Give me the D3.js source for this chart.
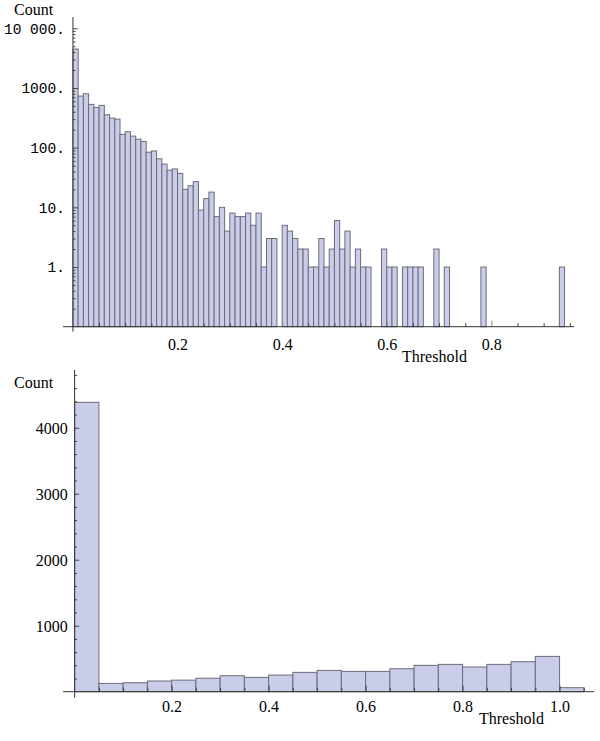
<!DOCTYPE html>
<html>
<head>
<meta charset="utf-8">
<script src="https://cdn.jsdelivr.net/npm/d3@7"></script>
<style>
  html, body { margin: 0; padding: 0; background: #fff; }
  svg { display: block; }
  .serif { font-family: "Liberation Serif", "Times New Roman", serif; }
  .mono { font-family: "Liberation Mono", "Courier New", monospace; }
</style>
</head>
<body>
<script>
// ---------------- DATA ----------------
// Top histogram: bin width 0.01 starting at 0 (log-scaled counts)
const topBinWidth = 0.01;
const topCounts = [
  4490, 731, 800, 531, 473, 511, 356, 313, 301, 167,
  185, 156, 139, 127, 84, 88, 65, 53, 42, 44,
  37, 20, 23, 27, 9, 14, 18, 7, 10, 4,
  8, 7, 7, 8, 5, 8, 1, 3, 3, 0,
  5, 4, 3, 2, 2, 1, 1, 3, 1, 2,
  6, 2, 4, 1, 2, 1, 1, 0, 0, 2,
  1, 1, 0, 1, 1, 1, 1, 0, 0, 2,
  0, 1, 0, 0, 0, 0, 0, 0, 1, 0,
  0, 0, 0, 0, 0, 0, 0, 0, 0, 0,
  0, 0, 0, 1
];
const topXTicks = [0.2, 0.4, 0.6, 0.8];
const topXLabels = ["0.2", "0.4", "0.6", "0.8"];
const topYTicks = [1, 10, 100, 1000, 10000];
const topYLabels = ["1.", "10.", "100.", "1000.", "10 000."];

// Bottom histogram: bin width 0.05 starting at 0 (linear counts)
const bottomBinWidth = 0.05;
const bottomCounts = [
  4385, 126, 136, 162, 175, 204, 242, 217, 252, 293,
  323, 308, 308, 348, 399, 414, 374, 414, 455, 535, 61
];
const bottomXTicks = [0.2, 0.4, 0.6, 0.8, 1.0];
const bottomXLabels = ["0.2", "0.4", "0.6", "0.8", "1.0"];
const bottomYTicks = [1000, 2000, 3000, 4000];
const bottomYLabels = ["1000", "2000", "3000", "4000"];

const axisLabelY = "Count";
const axisLabelX = "Threshold";

// ---------------- STYLE ----------------
const W = 600, H = 741;
const barFill = "#c9cde9";
const barStroke = "#6c6c78";
const axisColor = "#333";
const tickColor = "#444";
const serifSize = 16;

const svg = d3.select("body").append("svg")
  .attr("width", W).attr("height", H);

function range(a, b, step) {
  const out = [];
  for (let v = a; v <= b + 1e-9; v += step) out.push(+v.toFixed(6));
  return out;
}

// ================= TOP CHART =================
{
  const x = d3.scaleLinear().domain([-0.019, 0.958]).range([63, 574]);
  const y = d3.scaleLog().domain([0.1, 10000]).range([326.7, 28.3]);
  const yTop = y.invert(17);
  const g = svg.append("g");

  const bins = topCounts.map((c, i) => ({ x0: i * topBinWidth, x1: (i + 1) * topBinWidth, c }))
    .filter(d => d.c > 0);

  g.selectAll("rect.bar").data(bins).join("rect")
    .attr("class", "bar")
    .attr("x", d => x(d.x0))
    .attr("width", d => x(d.x1) - x(d.x0))
    .attr("y", d => y(d.c))
    .attr("height", d => y(0.1) - y(d.c))
    .attr("fill", barFill)
    .attr("stroke", barStroke)
    .attr("stroke-width", 1);

  const minorY = [];
  [0.1, 1, 10, 100, 1000, 10000].forEach(dec => {
    for (let m = 2; m <= 9; m++) { const v = dec * m; if (v < yTop) minorY.push(v); }
  });
  g.append("g").attr("transform", `translate(${x(0)},0)`)
    .call(d3.axisLeft(y).tickValues(minorY).tickSizeInner(-2.5).tickSizeOuter(0).tickFormat(""))
    .call(s => s.select(".domain").remove())
    .call(s => s.selectAll("line").attr("stroke", tickColor));
  g.append("g").attr("transform", `translate(${x(0)},0)`)
    .call(d3.axisLeft(y).tickValues(topYTicks).tickSizeInner(-5).tickSizeOuter(0)
      .tickPadding(8).tickFormat((d, i) => topYLabels[i]))
    .call(s => s.select(".domain").remove())
    .call(s => s.selectAll("line").attr("stroke", tickColor))
    .call(s => s.selectAll("text").attr("class", "mono").attr("font-size", 14.5)
      .attr("fill", "#000").attr("font-family", null).attr("dy", "0.34em"));

  const minorX = range(0.05, 0.95, 0.05).filter(v => !topXTicks.some(t => Math.abs(t - v) < 1e-6));
  g.append("g").attr("transform", `translate(0,${y(0.1)})`)
    .call(d3.axisBottom(x).tickValues(minorX).tickSizeInner(-3.5).tickSizeOuter(0).tickFormat(""))
    .call(s => s.select(".domain").remove())
    .call(s => s.selectAll("line").attr("stroke", tickColor));
  g.append("g").attr("transform", `translate(0,${y(0.1)})`)
    .call(d3.axisBottom(x).tickValues(topXTicks).tickSizeInner(-6).tickSizeOuter(0)
      .tickPadding(12).tickFormat((d, i) => topXLabels[i]))
    .call(s => s.select(".domain").remove())
    .call(s => s.selectAll("line").attr("stroke", "#888"))
    .call(s => s.selectAll("text").attr("class", "serif").attr("font-size", serifSize)
      .attr("fill", "#000").attr("font-family", null));

  g.append("line").attr("x1", x(-0.019)).attr("x2", x(0.958))
    .attr("y1", y(0.1)).attr("y2", y(0.1)).attr("stroke", axisColor).attr("stroke-width", 1);
  g.append("line").attr("x1", x(0)).attr("x2", x(0))
    .attr("y1", y(yTop)).attr("y2", y(0.1) + 5).attr("stroke", axisColor).attr("stroke-width", 1);

  g.append("text").attr("class", "serif").attr("font-size", serifSize)
    .attr("x", 14).attr("y", 15).text(axisLabelY);
  g.append("text").attr("class", "serif").attr("font-size", serifSize)
    .attr("x", 402).attr("y", 362).text(axisLabelX);
}

// ================= BOTTOM CHART =================
{
  const x = d3.scaleLinear().domain([-0.024, 1.071]).range([63, 594]);
  const y = d3.scaleLinear().domain([0, 4875]).range([691.7, 370]);
  const g = svg.append("g");

  const bins = bottomCounts.map((c, i) => ({ x0: i * bottomBinWidth, x1: (i + 1) * bottomBinWidth, c }));

  g.selectAll("rect.bar").data(bins).join("rect")
    .attr("class", "bar")
    .attr("x", d => x(d.x0))
    .attr("width", d => x(d.x1) - x(d.x0))
    .attr("y", d => y(d.c))
    .attr("height", d => y(0) - y(d.c))
    .attr("fill", barFill)
    .attr("stroke", barStroke)
    .attr("stroke-width", 1);

  const minorY = range(200, 4800, 200).filter(v => v % 1000 !== 0);
  g.append("g").attr("transform", `translate(${x(0)},0)`)
    .call(d3.axisLeft(y).tickValues(minorY).tickSizeInner(-2.5).tickSizeOuter(0).tickFormat(""))
    .call(s => s.select(".domain").remove())
    .call(s => s.selectAll("line").attr("stroke", tickColor));
  g.append("g").attr("transform", `translate(${x(0)},0)`)
    .call(d3.axisLeft(y).tickValues(bottomYTicks).tickSizeInner(-4.5).tickSizeOuter(0)
      .tickPadding(7).tickFormat((d, i) => bottomYLabels[i]))
    .call(s => s.select(".domain").remove())
    .call(s => s.selectAll("line").attr("stroke", tickColor))
    .call(s => s.selectAll("text").attr("class", "serif").attr("font-size", serifSize)
      .attr("fill", "#000").attr("font-family", null).attr("dy", "0.34em"));

  const minorX = range(0.05, 1.05, 0.05).filter(v => !bottomXTicks.some(t => Math.abs(t - v) < 1e-6));
  g.append("g").attr("transform", `translate(0,${y(0)})`)
    .call(d3.axisBottom(x).tickValues(minorX).tickSizeInner(-4).tickSizeOuter(0).tickFormat(""))
    .call(s => s.select(".domain").remove())
    .call(s => s.selectAll("line").attr("stroke", tickColor));
  g.append("g").attr("transform", `translate(0,${y(0)})`)
    .call(d3.axisBottom(x).tickValues(bottomXTicks).tickSizeInner(-6).tickSizeOuter(0)
      .tickPadding(9).tickFormat((d, i) => bottomXLabels[i]))
    .call(s => s.select(".domain").remove())
    .call(s => s.selectAll("line").attr("stroke", tickColor))
    .call(s => s.selectAll("text").attr("class", "serif").attr("font-size", serifSize)
      .attr("fill", "#000").attr("font-family", null));

  g.append("line").attr("x1", x(-0.024)).attr("x2", x(1.071))
    .attr("y1", y(0)).attr("y2", y(0)).attr("stroke", axisColor).attr("stroke-width", 1);
  g.append("line").attr("x1", x(0)).attr("x2", x(0))
    .attr("y1", y(4875)).attr("y2", y(0) + 6).attr("stroke", axisColor).attr("stroke-width", 1);

  g.append("text").attr("class", "serif").attr("font-size", serifSize)
    .attr("x", 14).attr("y", 388).text(axisLabelY);
  g.append("text").attr("class", "serif").attr("font-size", serifSize)
    .attr("x", 479).attr("y", 724).text(axisLabelX);
}
</script>
</body>
</html>
